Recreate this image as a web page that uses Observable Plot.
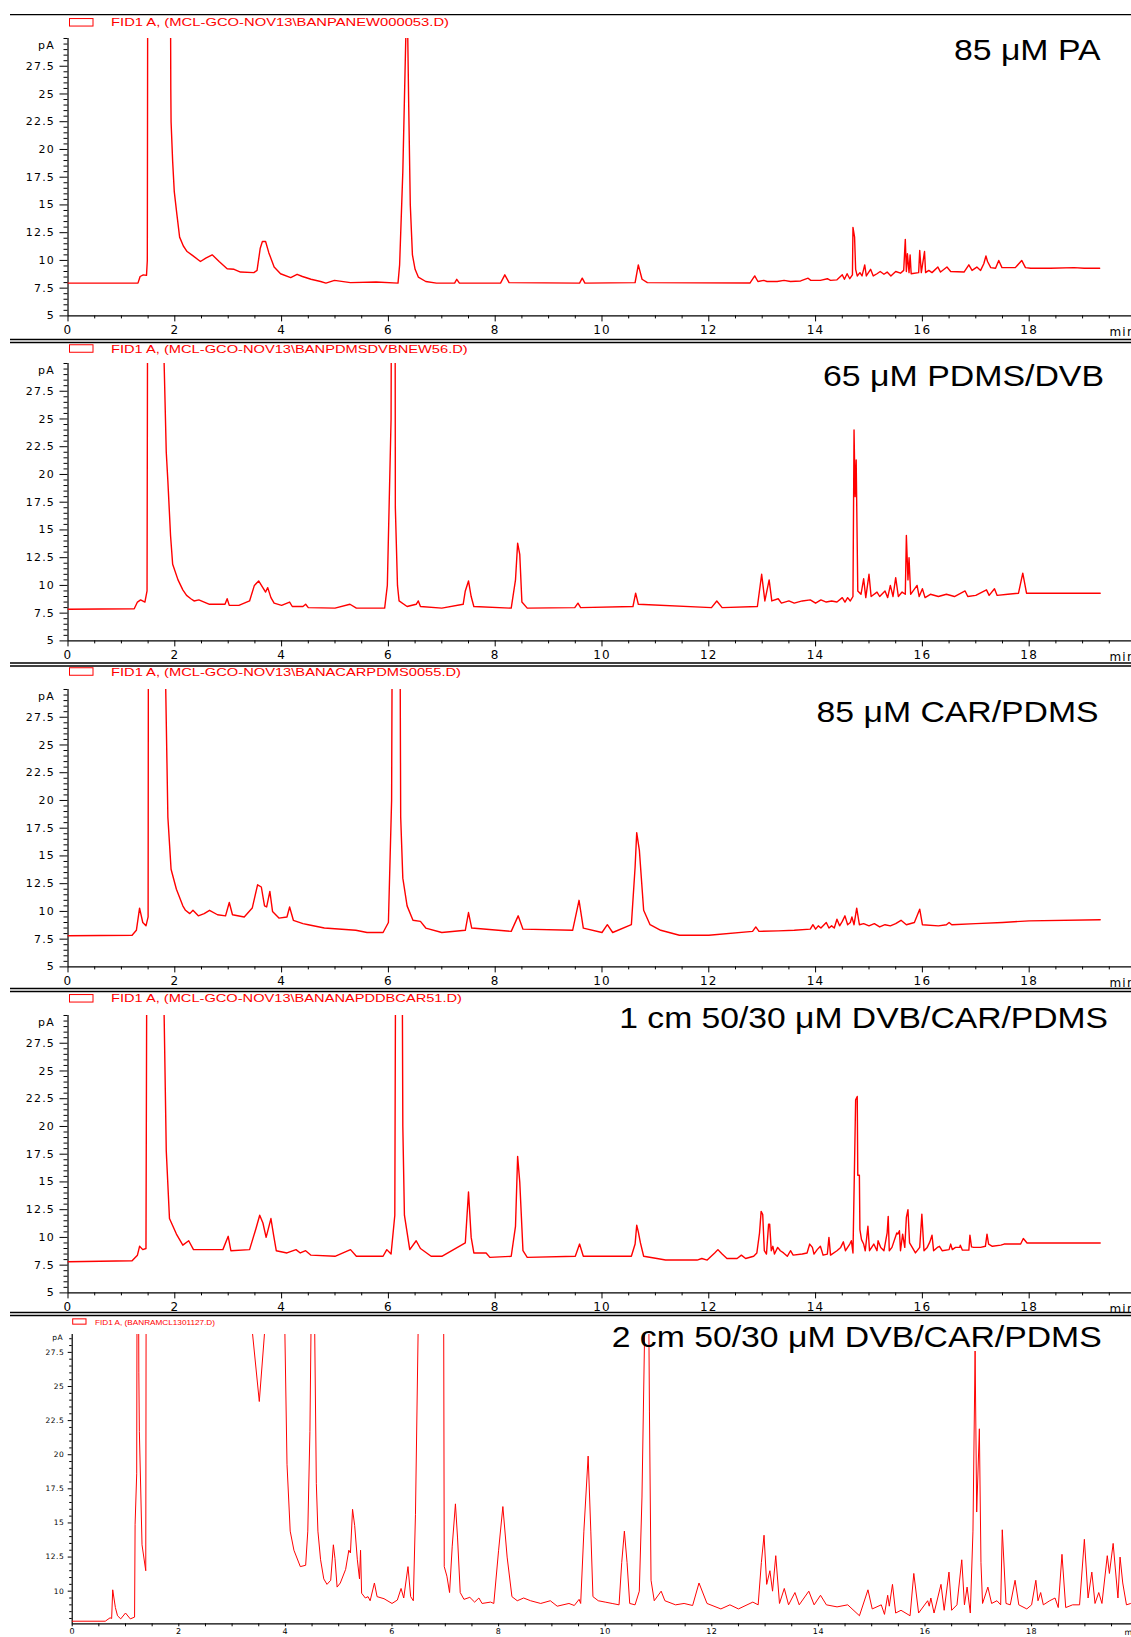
<!DOCTYPE html>
<html><head><meta charset="utf-8">
<script src="https://cdn.jsdelivr.net/npm/d3@7"></script>
<script src="https://cdn.jsdelivr.net/npm/@observablehq/plot@0.6"></script>
<style>
body{margin:0;background:#fff;}
#page{position:relative;width:1131px;height:1637px;overflow:hidden;font-family:"Liberation Sans",Arial,sans-serif;background:#fff;}
#page svg{position:absolute;left:0;}
</style></head>
<body><div id="page"></div>
<script>
// ---- data: [retention time (min), signal (pA)]; off-scale peaks given an estimated value ----
const paTrace = [[0,7.95],[1.31,7.95],[1.35,8.55],[1.41,8.7],[1.47,8.65],[1.485,10],[1.5,60],[1.9,60],[1.925,25.4],[1.93,22.5],[1.96,18.9],[1.99,16.2],[2.04,14.1],[2.09,12.1],[2.16,11.3],[2.23,10.8],[2.33,10.45],[2.48,9.9],[2.58,10.2],[2.7,10.5],[2.83,9.9],[2.98,9.25],[3.11,9.2],[3.23,8.95],[3.48,8.9],[3.54,9.1],[3.6,11.1],[3.64,11.7],[3.7,11.7],[3.76,10.7],[3.86,9.4],[3.98,8.8],[4.17,8.45],[4.29,8.75],[4.39,8.55],[4.55,8.3],[4.73,8.1],[4.83,7.95],[4.99,8.2],[5.29,8.0],[5.77,8.05],[6.18,7.95],[6.21,9.6],[6.27,18],[6.31,26.7],[6.33,31],[6.36,31],[6.38,24],[6.41,15],[6.45,10.5],[6.5,9.2],[6.56,8.5],[6.7,8.1],[6.9,7.95],[7.24,7.95],[7.28,8.3],[7.33,7.95],[8.1,7.95],[8.18,8.7],[8.26,8.0],[9.58,7.95],[9.63,8.4],[9.68,7.95],[10.62,8.0],[10.68,9.6],[10.75,8.3],[10.85,8.0],[12.77,7.96],[12.86,8.6],[12.92,8.1],[13.03,8.2],[13.09,8.1],[13.28,8.1],[13.41,8.2],[13.53,8.1],[13.72,8.15],[13.86,8.4],[13.91,8.2],[14.09,8.2],[14.22,8.35],[14.28,8.2],[14.4,8.25],[14.5,8.7],[14.54,8.3],[14.59,8.8],[14.64,8.35],[14.69,8.7],[14.7,12.98],[14.73,12.1],[14.75,9.2],[14.78,8.6],[14.83,8.9],[14.87,8.6],[14.92,9.6],[14.95,8.6],[15.03,9.2],[15.08,8.6],[15.15,8.8],[15.21,9.0],[15.28,8.75],[15.34,8.95],[15.41,8.6],[15.5,9.0],[15.59,8.85],[15.65,9.1],[15.68,11.9],[15.7,9.0],[15.72,10.6],[15.75,8.9],[15.77,10.5],[15.79,8.8],[15.93,8.9],[15.95,10.9],[15.98,8.9],[16.04,10.8],[16.06,8.9],[16.12,9.1],[16.18,8.9],[16.29,9.4],[16.34,8.95],[16.46,9.4],[16.53,9.0],[16.78,8.95],[16.87,9.6],[16.93,9.1],[17.02,9.4],[17.09,9.1],[17.15,9.7],[17.19,10.4],[17.22,9.9],[17.28,9.35],[17.37,9.3],[17.43,10.0],[17.49,9.35],[17.65,9.35],[17.74,9.35],[17.86,10.0],[17.93,9.35],[18.03,9.3],[18.4,9.3],[18.84,9.35],[19.03,9.3],[19.32,9.3]];

const pdmsDvbTrace = [[0,7.85],[1.24,7.9],[1.3,8.5],[1.36,8.7],[1.44,8.5],[1.48,9.5],[1.5,60],[1.78,60],[1.8,30],[1.84,22],[1.87,19.4],[1.92,14.5],[1.96,11.9],[2.06,10.5],[2.15,9.6],[2.22,9.1],[2.3,8.8],[2.36,8.6],[2.45,8.7],[2.55,8.5],[2.65,8.3],[2.94,8.3],[2.98,8.8],[3.02,8.2],[3.2,8.2],[3.4,8.6],[3.49,10.0],[3.57,10.4],[3.66,9.7],[3.7,9.4],[3.74,9.8],[3.8,8.9],[3.86,8.4],[4.0,8.2],[4.15,8.5],[4.2,8.1],[4.4,8.1],[4.45,8.3],[4.5,8.0],[5.0,7.95],[5.28,8.3],[5.4,7.95],[5.93,7.95],[5.98,10],[6.05,25],[6.07,60],[6.12,60],[6.13,17],[6.17,10],[6.2,8.6],[6.35,8.1],[6.52,8.3],[6.56,8.6],[6.6,8.1],[7.0,7.95],[7.4,8.3],[7.44,9.5],[7.5,10.4],[7.55,9.0],[7.6,8.1],[8.3,7.95],[8.38,10.5],[8.42,13.8],[8.46,12.8],[8.5,8.5],[8.6,7.95],[9.49,8.0],[9.55,8.4],[9.6,8.0],[10.58,8.1],[10.63,9.3],[10.68,8.3],[12.05,8.0],[12.15,8.6],[12.25,8.0],[12.91,8.1],[12.99,11.0],[13.05,8.6],[13.13,10.5],[13.18,8.6],[13.3,8.8],[13.36,8.4],[13.5,8.6],[13.6,8.4],[13.75,8.6],[13.9,8.7],[14.0,8.4],[14.1,8.7],[14.2,8.5],[14.3,8.6],[14.4,8.5],[14.5,8.9],[14.55,8.5],[14.6,8.9],[14.65,8.6],[14.7,9.0],[14.72,24],[14.74,18],[14.76,21.3],[14.79,9.5],[14.85,9.2],[14.9,10.6],[14.94,8.9],[15.0,11.0],[15.04,9.0],[15.15,9.4],[15.2,9.0],[15.3,9.5],[15.35,8.9],[15.4,10.0],[15.45,9.0],[15.5,10.7],[15.55,9.0],[15.62,9.4],[15.68,9.2],[15.7,14.5],[15.73,10.5],[15.75,12.5],[15.78,9.2],[15.84,9.6],[15.9,10.0],[15.94,9.0],[16.0,9.7],[16.05,8.9],[16.15,9.2],[16.3,9.0],[16.45,9.2],[16.6,9.0],[16.8,9.5],[16.85,9.0],[17.0,9.1],[17.2,9.6],[17.25,9.1],[17.35,9.7],[17.4,9.1],[17.6,9.2],[17.8,9.3],[17.88,11.1],[17.95,9.3],[18.5,9.3],[19.33,9.3]];

const carPdmsTrace = [[0,7.8],[1.2,7.85],[1.28,8.3],[1.34,10.3],[1.4,9.0],[1.46,8.7],[1.5,9.5],[1.51,60],[1.8,60],[1.83,30],[1.87,18.5],[1.93,13.8],[2.03,12.0],[2.15,10.5],[2.2,10.1],[2.28,9.8],[2.34,10.1],[2.44,9.6],[2.55,9.8],[2.65,10.1],[2.8,9.7],[2.95,9.6],[3.02,10.8],[3.08,9.7],[3.3,9.5],[3.45,10.3],[3.55,12.4],[3.62,12.2],[3.68,10.5],[3.72,10.4],[3.78,11.8],[3.83,10.0],[3.95,9.4],[4.1,9.5],[4.15,10.4],[4.22,9.2],[4.4,8.9],[4.5,8.8],[4.8,8.5],[5.39,8.3],[5.6,8.1],[5.9,8.1],[6.0,9],[6.06,20],[6.09,60],[6.2,60],[6.23,18.5],[6.27,13],[6.35,10.5],[6.46,9.2],[6.6,9.1],[6.7,8.5],[7.0,8.1],[7.44,8.3],[7.5,9.9],[7.56,8.5],[8.3,8.2],[8.43,9.6],[8.52,8.4],[9.45,8.3],[9.57,11.0],[9.65,8.5],[10.0,8.1],[10.1,8.8],[10.2,8.1],[10.55,8.8],[10.62,14],[10.65,17.1],[10.7,15.5],[10.78,10.1],[10.9,8.8],[11.1,8.3],[11.45,7.85],[12.0,7.85],[12.82,8.2],[12.88,8.6],[12.94,8.2],[13.3,8.25],[13.6,8.3],[13.9,8.4],[13.95,8.8],[14.0,8.4],[14.05,8.7],[14.1,8.5],[14.2,9.0],[14.25,8.5],[14.3,8.7],[14.35,8.5],[14.4,9.3],[14.45,8.7],[14.5,9.1],[14.55,9.6],[14.6,8.8],[14.65,9.0],[14.68,9.5],[14.72,8.8],[14.77,10.3],[14.82,8.8],[14.9,8.9],[15.0,8.7],[15.1,8.9],[15.2,8.6],[15.3,8.8],[15.4,8.7],[15.5,8.9],[15.6,9.2],[15.7,8.8],[15.85,9.0],[15.95,10.2],[16.0,8.8],[16.3,8.7],[16.45,8.8],[16.5,9.0],[16.55,8.8],[17,8.9],[17.5,9.0],[18,9.15],[19.33,9.25]];

const dvbCar1Trace = [[0,7.8],[1.2,7.9],[1.3,8.4],[1.34,9.2],[1.4,8.9],[1.46,9.0],[1.49,60],[1.77,60],[1.8,30],[1.84,17.8],[1.9,11.7],[2.03,10.3],[2.15,9.3],[2.26,9.7],[2.35,8.9],[2.6,8.9],[2.9,8.9],[3.0,10.1],[3.05,8.8],[3.4,8.9],[3.52,10.8],[3.59,12.0],[3.65,11.3],[3.71,10.0],[3.8,11.7],[3.85,10.2],[3.9,8.8],[4.1,8.6],[4.27,8.9],[4.35,8.6],[4.45,8.8],[4.55,8.4],[5.0,8.3],[5.29,8.9],[5.4,8.3],[5.9,8.3],[5.97,8.9],[6.05,8.5],[6.12,12],[6.15,60],[6.24,60],[6.27,20],[6.3,12],[6.4,8.9],[6.52,9.7],[6.6,9.0],[6.8,8.3],[7.0,8.3],[7.44,9.5],[7.5,14.1],[7.55,10.0],[7.6,8.6],[7.83,8.6],[7.9,8.2],[8.3,8.3],[8.38,11],[8.42,17.3],[8.46,15],[8.52,8.8],[8.6,8.2],[9.5,8.3],[9.58,9.4],[9.65,8.3],[10.55,8.3],[10.62,9.4],[10.65,11.1],[10.68,10.5],[10.72,9.5],[10.78,8.3],[11.03,8.1],[11.19,7.96],[11.78,7.96],[11.87,8.1],[11.97,7.96],[12.11,8.6],[12.17,8.9],[12.25,8.5],[12.34,8.1],[12.53,8.1],[12.61,8.4],[12.69,8.1],[12.84,8.3],[12.9,8.6],[12.95,10.4],[12.98,12.35],[13.01,12.05],[13.04,8.8],[13.08,8.5],[13.12,11.2],[13.14,11.2],[13.17,8.8],[13.2,9.2],[13.23,8.5],[13.29,9.1],[13.34,8.8],[13.4,8.6],[13.47,8.3],[13.53,8.8],[13.58,8.4],[13.75,8.5],[13.84,8.6],[13.89,9.4],[13.94,9.1],[13.97,8.5],[14.03,8.9],[14.09,9.2],[14.14,8.4],[14.22,8.5],[14.25,10.0],[14.28,8.4],[14.4,8.8],[14.47,9.1],[14.52,9.6],[14.56,8.8],[14.64,9.4],[14.67,9.7],[14.7,8.6],[14.75,22.4],[14.78,22.7],[14.79,15.6],[14.82,15.6],[14.83,10.7],[14.86,9.8],[14.9,9.4],[14.93,8.8],[14.98,11.0],[15.01,8.8],[15.09,9.4],[15.15,8.8],[15.17,9.7],[15.22,9.1],[15.28,8.8],[15.34,10.4],[15.36,11.9],[15.38,8.8],[15.43,9.1],[15.52,10.4],[15.54,10.3],[15.57,10.6],[15.59,8.8],[15.63,10.3],[15.67,9.1],[15.7,11.8],[15.73,12.5],[15.76,9.5],[15.81,9.1],[15.87,8.6],[15.95,9.1],[15.99,12.1],[16.03,8.8],[16.09,9.1],[16.14,9.6],[16.18,10.2],[16.21,8.8],[16.28,9.1],[16.32,9.2],[16.37,8.8],[16.5,8.9],[16.53,9.4],[16.56,8.9],[16.62,9.1],[16.7,9.1],[16.71,9.3],[16.75,8.85],[16.87,8.85],[16.89,10.2],[16.92,9.15],[16.96,9.1],[17.09,9.1],[17.18,9.2],[17.21,10.3],[17.24,9.4],[17.31,9.2],[17.47,9.3],[17.53,9.4],[17.84,9.4],[17.89,9.9],[17.96,9.5],[18.15,9.5],[18.59,9.5],[19.33,9.5]];

const dvbCar2Trace = [[0,7.8],[0.62,7.8],[0.71,8.05],[0.74,8.0],[0.76,10.1],[0.81,8.8],[0.85,8.2],[0.91,7.97],[1.0,8.4],[1.09,7.97],[1.17,8.1],[1.18,14.9],[1.21,18.6],[1.22,40],[1.24,40],[1.25,26],[1.26,21.7],[1.31,13.4],[1.38,11.5],[1.39,40],[1.5,60],[3.3,60],[3.38,29],[3.51,23.9],[3.61,29],[3.7,60],[3.95,60],[3.99,29],[4.03,19.3],[4.09,14.4],[4.16,13.0],[4.28,11.8],[4.38,11.9],[4.42,14.4],[4.46,21.7],[4.48,29],[4.52,40],[4.55,29],[4.58,17.9],[4.61,14.4],[4.66,12.3],[4.72,10.9],[4.78,10.5],[4.85,10.8],[4.9,13.4],[4.93,12.4],[4.97,10.3],[5.03,10.6],[5.13,11.6],[5.19,13.0],[5.22,12.8],[5.26,16.0],[5.3,14.8],[5.35,12.3],[5.39,10.9],[5.41,13.0],[5.43,9.85],[5.5,9.5],[5.55,9.6],[5.59,9.3],[5.67,10.6],[5.72,9.6],[5.85,9.45],[6.0,9.1],[6.1,9.35],[6.17,10.2],[6.22,9.5],[6.3,11.8],[6.35,9.6],[6.4,9.3],[6.44,15.6],[6.49,29],[6.55,60],[6.9,60],[6.97,29],[6.98,11.8],[7.03,11.1],[7.08,9.9],[7.13,13.3],[7.19,16.4],[7.23,13.9],[7.28,9.9],[7.35,9.4],[7.46,9.55],[7.55,9.2],[7.63,9.5],[7.69,9.1],[7.85,9.2],[7.91,9.1],[8.0,13.0],[8.08,16.2],[8.16,12.5],[8.25,9.6],[8.35,9.3],[8.47,9.5],[8.6,9.3],[8.79,9.1],[8.97,9.3],[9.1,8.9],[9.32,9.1],[9.42,8.95],[9.51,9.4],[9.54,9.1],[9.6,14.4],[9.68,19.9],[9.73,14.4],[9.77,9.6],[9.87,9.3],[10.0,9.2],[10.13,9.1],[10.26,9.0],[10.31,12.1],[10.36,14.4],[10.41,12.1],[10.46,9.1],[10.56,9.0],[10.64,10.0],[10.69,16.9],[10.74,29],[10.78,40],[10.82,29],[10.83,23.2],[10.86,10.8],[10.92,9.3],[11.05,10.0],[11.12,9.3],[11.32,9.0],[11.48,9.1],[11.64,8.95],[11.76,10.6],[11.91,9.1],[12.17,8.7],[12.34,9.0],[12.5,8.7],[12.77,9.2],[12.87,9.0],[12.93,12.1],[12.98,14.1],[13.03,10.5],[13.09,11.5],[13.14,10.0],[13.2,12.6],[13.27,9.1],[13.36,10.2],[13.44,9.0],[13.56,9.9],[13.64,9.0],[13.82,10.0],[13.92,9.0],[14.04,9.7],[14.15,9.0],[14.35,8.85],[14.55,9.0],[14.77,8.2],[14.93,10.1],[15.01,8.7],[15.18,9.0],[15.24,8.3],[15.3,9.7],[15.33,8.9],[15.39,10.5],[15.45,8.4],[15.55,8.6],[15.72,8.2],[15.79,11.3],[15.88,8.4],[16.05,9.3],[16.08,8.9],[16.11,9.5],[16.17,8.4],[16.3,10.5],[16.36,8.6],[16.45,11.4],[16.5,8.6],[16.6,9.0],[16.69,12.3],[16.74,9.0],[16.79,10.3],[16.85,8.4],[16.9,14.4],[16.94,27.6],[16.97,15.8],[17.02,21.9],[17.05,12.1],[17.08,9.1],[17.18,10.3],[17.25,9.1],[17.35,9.3],[17.42,9.0],[17.45,14.5],[17.52,9.1],[17.6,9.0],[17.69,10.8],[17.76,9.0],[17.91,8.7],[18.0,9.0],[18.08,10.8],[18.12,9.3],[18.17,9.9],[18.22,9.0],[18.34,9.3],[18.44,9.5],[18.5,8.8],[18.57,12.7],[18.64,8.8],[18.77,9.0],[18.9,9.0],[18.99,13.8],[19.06,9.5],[19.13,11.4],[19.19,9.1],[19.26,9.9],[19.32,9.1],[19.42,12.6],[19.46,11.3],[19.53,13.5],[19.57,11.7],[19.62,9.5],[19.66,12.5],[19.71,10.6],[19.78,9.0],[19.86,9.1],[19.95,9.0]];

const fibreLabels = ["85 μM PA", "65 μM PDMS/DVB", "85 μM CAR/PDMS", "1 cm 50/30 μM DVB/CAR/PDMS", "2 cm 50/30 μM DVB/CAR/PDMS"];
const fileLabels = ["FID1 A,  (MCL-GCO-NOV13\\BANPANEW000053.D)", "FID1 A,  (MCL-GCO-NOV13\\BANPDMSDVBNEW56.D)", "FID1 A,  (MCL-GCO-NOV13\\BANACARPDMS0055.D)", "FID1 A,  (MCL-GCO-NOV13\\BANANAPDDBCAR51.D)", "FID1 A,  (BANRAMCL1301127.D)"];
const xMajorTicks = [0,2,4,6,8,10,12,14,16,18];
const yMajorTicks = [5,7.5,10,12.5,15,17.5,20,22.5,25,27.5];
const traces = [paTrace, pdmsDvbTrace, carPdmsTrace, dvbCar1Trace, dvbCar2Trace];

// ---- layout ----
const W = 1131;
const FONT = "'Liberation Sans', Arial, sans-serif";
const TICKFONT = "'DejaVu Sans', Verdana, sans-serif";
const geo = [
  {top:38.3, bottom:315.7, x0:67.5, ppm:53.4, y:[5,30], lw:1.4, small:false,
   leg:{y:22.3, len:338}, lab:{end:1100.5, base:60, len:146.6}},
  {top:363, bottom:640.4, x0:67.5, ppm:53.4, y:[5,30], lw:1.4, small:false,
   leg:{y:348.5, len:356.7}, lab:{end:1104, base:386, len:281}},
  {top:689, bottom:966.4, x0:67.5, ppm:53.4, y:[5,30], lw:1.4, small:false,
   leg:{y:671.5, len:350}, lab:{end:1098.6, base:721.5, len:282}},
  {top:1014.5, bottom:1291.9, x0:67.5, ppm:53.4, y:[5,30], lw:1.4, small:false,
   leg:{y:998.3, len:351}, lab:{end:1108, base:1027.5, len:488.7}},
  {top:1334, bottom:1623.3, x0:71.7, ppm:53.3, y:[7.61,28.81], lw:1.0, small:true,
   leg:{y:1321.5, len:120}, lab:{end:1101.7, base:1347, len:490}}
];

const page = document.getElementById("page");
const range = (a, b, s) => d3.range(Math.round(a / s), Math.round(b / s) + 1).map(i => +(i * s).toFixed(3));

geo.forEach((g, i) => {
  const sm = g.small;
  const mt = 12, mb = sm ? 14 : 26;
  const xMax = (W - g.x0) / g.ppm;
  const yMaj = sm ? yMajorTicks.filter(v => v >= 10) : yMajorTicks;
  const yMin = range(Math.ceil(g.y[0] * 2) / 2, g.y[1], 0.5).filter(v => !yMaj.includes(v) && v <= g.y[1]);
  const xMin = range(0, 19.5, 0.5).filter(v => !xMajorTicks.includes(v));
  const tickFs = sm ? 7.5 : 11, xFs = sm ? 8 : 12;
  const svg = Plot.plot({
    width: W, height: g.bottom - g.top + mt + mb,
    marginLeft: g.x0, marginRight: 0, marginTop: mt, marginBottom: mb,
    x: {domain: [0, xMax], axis: null},
    y: {domain: g.y, axis: null},
    style: {fontFamily: TICKFONT, color: "#000", background: "transparent", overflow: "visible"},
    marks: [
      Plot.axisY(yMin, {tickSize: sm ? 2.5 : 4, tickFormat: () => "", label: null}),
      Plot.axisY(yMaj, {tickSize: sm ? 4 : 8, tickPadding: sm ? 4 : 5, fontSize: tickFs, label: null,
        tickFormat: d => String(d)}),
      Plot.axisX(xMin, {tickSize: 3, tickFormat: () => "", label: null}),
      Plot.axisX(xMajorTicks, {tickSize: sm ? 3 : 6, tickPadding: sm ? 2 : 4, fontSize: xFs, label: null,
        tickFormat: d => String(d)}),
      Plot.text(["pA"], {x: 0, y: g.y[1], dx: sm ? -9 : -13, dy: sm ? 3 : 7, textAnchor: "end", fontSize: tickFs}),
      Plot.text(["min"], {x: ((sm ? 1124 : 1109) - g.x0) / g.ppm, y: g.y[0], dy: sm ? 9 : 16,
        textAnchor: "start", fontSize: xFs}),
      Plot.ruleX([0], {stroke: "#000", strokeWidth: 1.2}),
      Plot.ruleY([g.y[0]], {stroke: "#000", strokeWidth: 1.2}),
      Plot.line(traces[i], {x: d => d[0], y: d => d[1], stroke: "#ff0000", strokeWidth: g.lw, clip: true})
    ]
  });
  svg.style.top = (g.top - mt) + "px";
  svg.querySelectorAll("text").forEach(t => t.setAttribute("letter-spacing", sm ? "0.5" : "1.2"));
  page.appendChild(svg);
});

// ---- overlay: separators, file legends, fibre labels ----
const ov = d3.select(page).append("svg").attr("width", W).attr("height", 1637).style("top", "0px")
  .style("pointer-events", "none").attr("font-family", FONT);
ov.append("line").attr("x1", 10).attr("x2", W).attr("y1", 14.7).attr("y2", 14.7).attr("stroke", "#000").attr("stroke-width", 1.3);
[339.5, 663, 988.5, 1312.5].forEach(y => {
  [y, y + 3].forEach(yy => ov.append("line").attr("x1", 10).attr("x2", W).attr("y1", yy).attr("y2", yy)
    .attr("stroke", "#000").attr("stroke-width", 1.3));
});
geo.forEach((g, i) => {
  const sm = g.small;
  const rx = sm ? 72.7 : 69.5, rw = sm ? 13.3 : 23.5, rh = sm ? 5.3 : 7.5;
  ov.append("rect").attr("x", rx).attr("y", g.leg.y - rh / 2).attr("width", rw).attr("height", rh)
    .attr("fill", "none").attr("stroke", "#ff0000").attr("stroke-width", 1);
  ov.append("text").attr("x", sm ? 95 : 111).attr("y", g.leg.y + (sm ? 3 : 4))
    .attr("font-size", sm ? 8 : 11).attr("fill", "#ff0000")
    .attr("textLength", g.leg.len).attr("lengthAdjust", "spacingAndGlyphs")
    .text(fileLabels[i]);
  ov.append("text").attr("x", g.lab.end - g.lab.len).attr("y", g.lab.base)
    .attr("font-size", 29).attr("fill", "#000")
    .attr("textLength", g.lab.len).attr("lengthAdjust", "spacingAndGlyphs")
    .text(fibreLabels[i]);
});
</script>
</body></html>
